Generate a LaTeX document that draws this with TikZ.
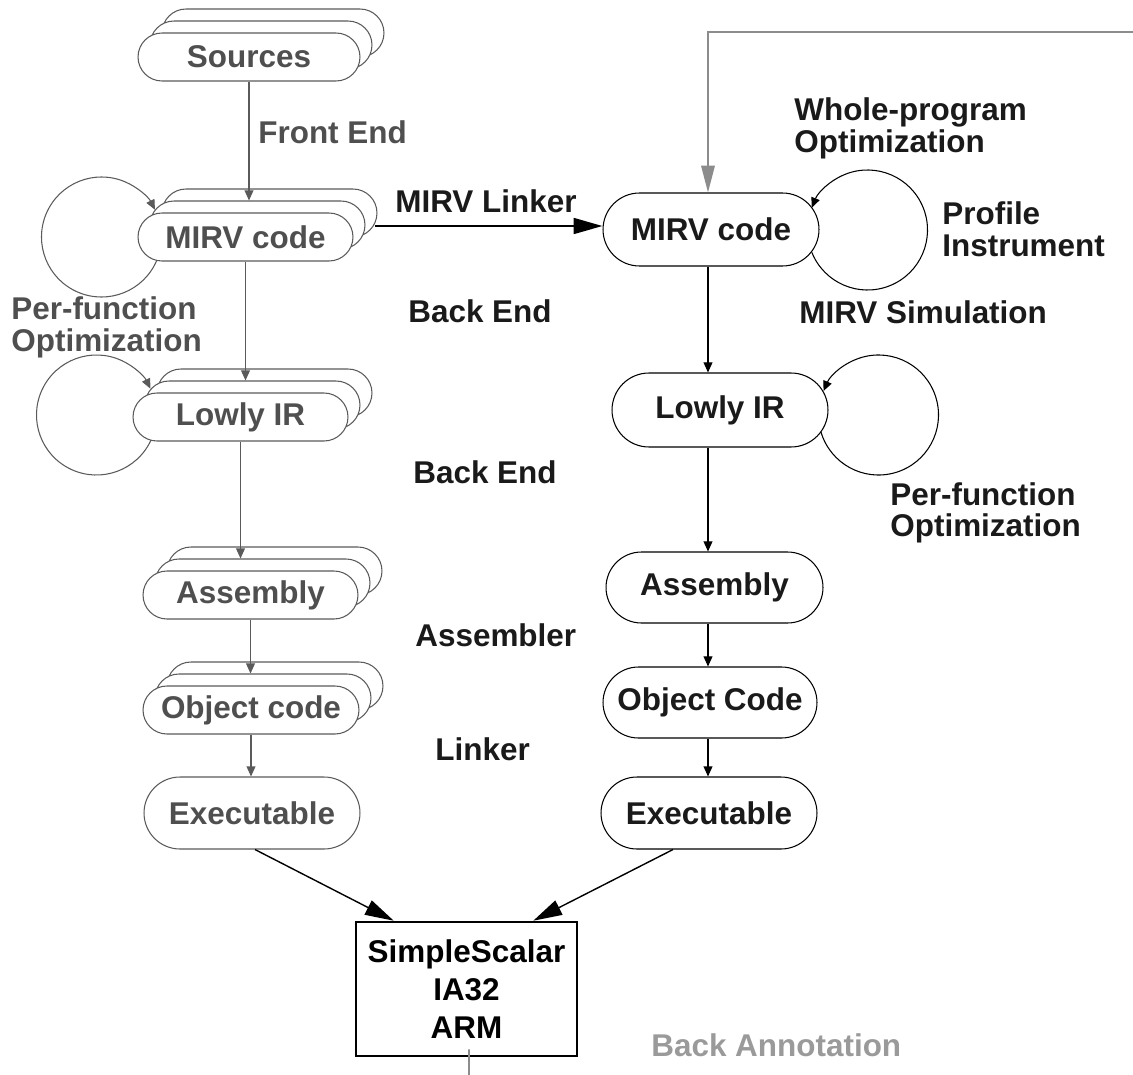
\documentclass[tikz,border=0pt]{standalone}
\usepackage{fontspec}
\setmainfont{Liberation Sans}
\usetikzlibrary{shapes.misc,arrows.meta,calc}

\definecolor{ink}{HTML}{1A1A1A}
\definecolor{grayink}{HTML}{4F4F4F}
\definecolor{grayline}{HTML}{5A5A5A}
\definecolor{fbgray}{HTML}{8C8C8C}
\definecolor{annot}{HTML}{9A9A9A}

\newcommand{\lblfont}{\fontsize{17.9}{20}\selectfont\bfseries}

\tikzset{
  stadL/.style={rounded rectangle, draw=grayline, fill=white, line width=0.6pt,
                inner sep=0pt, text=grayink, font=\lblfont},
  stadR/.style={rounded rectangle, draw=black, fill=white, line width=0.6pt,
                inner sep=0pt, text=ink, font=\lblfont},
  txt/.style={inner sep=0pt, anchor=base west, font=\lblfont, text=ink},
  txtG/.style={txt, text=grayink},
  arrL/.style={draw=grayline, line width=0.6pt, -{Triangle[length=5.7pt,width=5pt]}},
  arrR/.style={draw=black, line width=0.6pt, -{Triangle[length=5.7pt,width=5pt]}},
  arrBig/.style={draw=black, line width=0.8pt, -{Triangle[length=16.4pt,width=9pt]}},
  fbline/.style={draw=fbgray, line width=1pt, -{Triangle[length=15.3pt,width=7.7pt]}},
}

\begin{document}
\begin{tikzpicture}[x=0.02cm, y=-0.02cm]
\useasboundingbox (0,0) rectangle (1133,1075);

% ---------- left column: per-file flow (stacked) ----------
\node[stadL, minimum width=4.44cm, minimum height=0.96cm] (srcL3) at (273,33) {};
\node[stadL, minimum width=4.44cm, minimum height=0.96cm] (srcL2) at (261,45) {};
\node[stadL, minimum width=4.44cm, minimum height=0.96cm] (srcL)  at (249,57) {Sources};

\node[stadL, minimum width=4.30cm, minimum height=0.96cm] (mirvL3) at (269.5,213) {};
\node[stadL, minimum width=4.30cm, minimum height=0.96cm] (mirvL2) at (257.5,225) {};
\node[stadL, minimum width=4.30cm, minimum height=0.96cm] (mirvL)  at (245.5,237) {MIRV code};

\node[stadL, minimum width=4.30cm, minimum height=0.96cm] (lowL3) at (264.5,393) {};
\node[stadL, minimum width=4.30cm, minimum height=0.96cm] (lowL2) at (252.5,405) {};
\node[stadL, minimum width=4.30cm, minimum height=0.96cm] (lowL)  at (240.5,417) {Lowly IR};

\node[stadL, minimum width=4.30cm, minimum height=0.96cm] (asmL3) at (274.5,571) {};
\node[stadL, minimum width=4.30cm, minimum height=0.96cm] (asmL2) at (262.5,583) {};
\node[stadL, minimum width=4.30cm, minimum height=0.96cm] (asmL)  at (250.5,595) {Assembly};

\node[stadL, minimum width=4.32cm, minimum height=0.96cm] (objL3) at (275,686) {};
\node[stadL, minimum width=4.32cm, minimum height=0.96cm] (objL2) at (263,698) {};
\node[stadL, minimum width=4.32cm, minimum height=0.96cm] (objL)  at (251,710) {Object code};

\node[stadL, minimum width=4.32cm, minimum height=1.44cm] (exeL) at (252,813) {Executable};

% ---------- right column: whole-program flow ----------
\node[stadR, minimum width=4.32cm, minimum height=1.46cm] (mirvR) at (711,229.5) {MIRV code};
\node[stadR, minimum width=4.32cm, minimum height=1.48cm] (lowR)  at (720,410) {Lowly IR};
\node[stadR, minimum width=4.34cm, minimum height=1.42cm] (asmR)  at (714.5,587.5) {Assembly};
\node[stadR, minimum width=4.28cm, minimum height=1.42cm] (objR)  at (710,702.5) {Object Code};
\node[stadR, minimum width=4.32cm, minimum height=1.44cm] (exeR)  at (709,813) {Executable};

% ---------- simulator box ----------
\node[draw=black, line width=1.5pt, fill=white, minimum width=4.42cm, minimum height=2.68cm,
      inner sep=0pt, align=center, text=black,
      font=\fontsize{17.9}{21.5}\selectfont\bfseries] (ss) at (466.5,989)
      {SimpleScalar\\IA32\\ARM};

% ---------- left column connectors ----------
\draw[arrL] (srcL.south)  -- (srcL.south  |- mirvL2.north);
\draw[arrL] (mirvL.south) -- (mirvL.south |- lowL2.north);
\draw[arrL] (lowL.south)  -- (lowL.south  |- asmL2.north);
\draw[arrL] (asmL.south)  -- (asmL.south  |- objL2.north);
\draw[arrL] (objL.south)  -- (objL.south  |- exeL.north);

% per-function optimisation loops (left)
\coordinate (cMl) at ($(mirvL.west)+(-36,0)$);
\coordinate (cLl) at ($(lowL.west)+(-36,-2)$);
\draw[arrL] ($(cMl)+(23:60)$) arc[start angle=23, end angle=333, radius=60];
\draw[arrL] ($(cLl)+(25:60)$) arc[start angle=25, end angle=334, radius=60];

% ---------- right column connectors ----------
\coordinate (colR) at (708,0);
\draw[arrR] (colR |- mirvR.south) -- (colR |- lowR.north);
\draw[arrR] (colR |- lowR.south)  -- (colR |- asmR.north);
\draw[arrR] (colR |- asmR.south)  -- (colR |- objR.north);
\draw[arrR] (colR |- objR.south)  -- (colR |- exeR.north);

% whole-program and per-function loops (right)
\coordinate (cMr) at ($(mirvR.east)+(48,0.5)$);
\coordinate (cLr) at ($(lowR.east)+(50,5)$);
\draw[arrR] ($(cMr)+(158.2:60)$) arc[start angle=158.2, end angle=-158.2, radius=60];
\draw[arrR] ($(cLr)+(163.6:60)$) arc[start angle=163.6, end angle=-156.4, radius=60];

% MIRV linker
\draw[arrBig, line width=1.2pt] ($(mirvL3.east)+(-3,13)$) -- ($(mirvR.west)+(0,-3.5)$);

% executables into the simulator
\draw[arrBig] ($(exeL.south)+(3,0)$)   -- ($(ss.north west)+(39,0)$);
\draw[arrBig] ($(exeR.south)+(-36,0)$) -- ($(ss.north east)+(-45,0)$);

% back-annotation feedback path
\coordinate (fb) at (1133,32);
\draw[fbline] (fb) -| (colR |- mirvR.north);
\coordinate (annEnd) at (469,1075);
\draw[draw=fbgray, line width=1pt] ($(ss.south)+(2.5,-8)$) -- (annEnd);

% ---------- labels ----------
\node[txtG] (lFront) at (258,143) {Front End};
\node[txt]  (lLink)  at (395,212) {MIRV Linker};
\node[txt]  (lBE1)   at (408,322) {Back End};
\node[txt]  (lBE2)   at (413,483) {Back End};
\node[txt]  (lAsm)   at (415,646) {Assembler};
\node[txt]  (lLnk)   at (435,760) {Linker};

\node[txtG] (pfL1) at (11,319) {Per-function};
\node[txtG] (pfL2) at (11,351) {Optimization};

\node[txt] (wp1) at (794,120) {Whole-program};
\node[txt] (wp2) at (794,152) {Optimization};
\node[txt] (pr1) at (942,224) {Profile};
\node[txt] (pr2) at (942,256) {Instrument};
\node[txt] (sim) at (799,323) {MIRV Simulation};
\node[txt] (pfR1) at (890,505) {Per-function};
\node[txt] (pfR2) at (890,536) {Optimization};

\node[txt, text=annot] (ann) at (651,1056) {Back Annotation};
\end{tikzpicture}
\end{document}
